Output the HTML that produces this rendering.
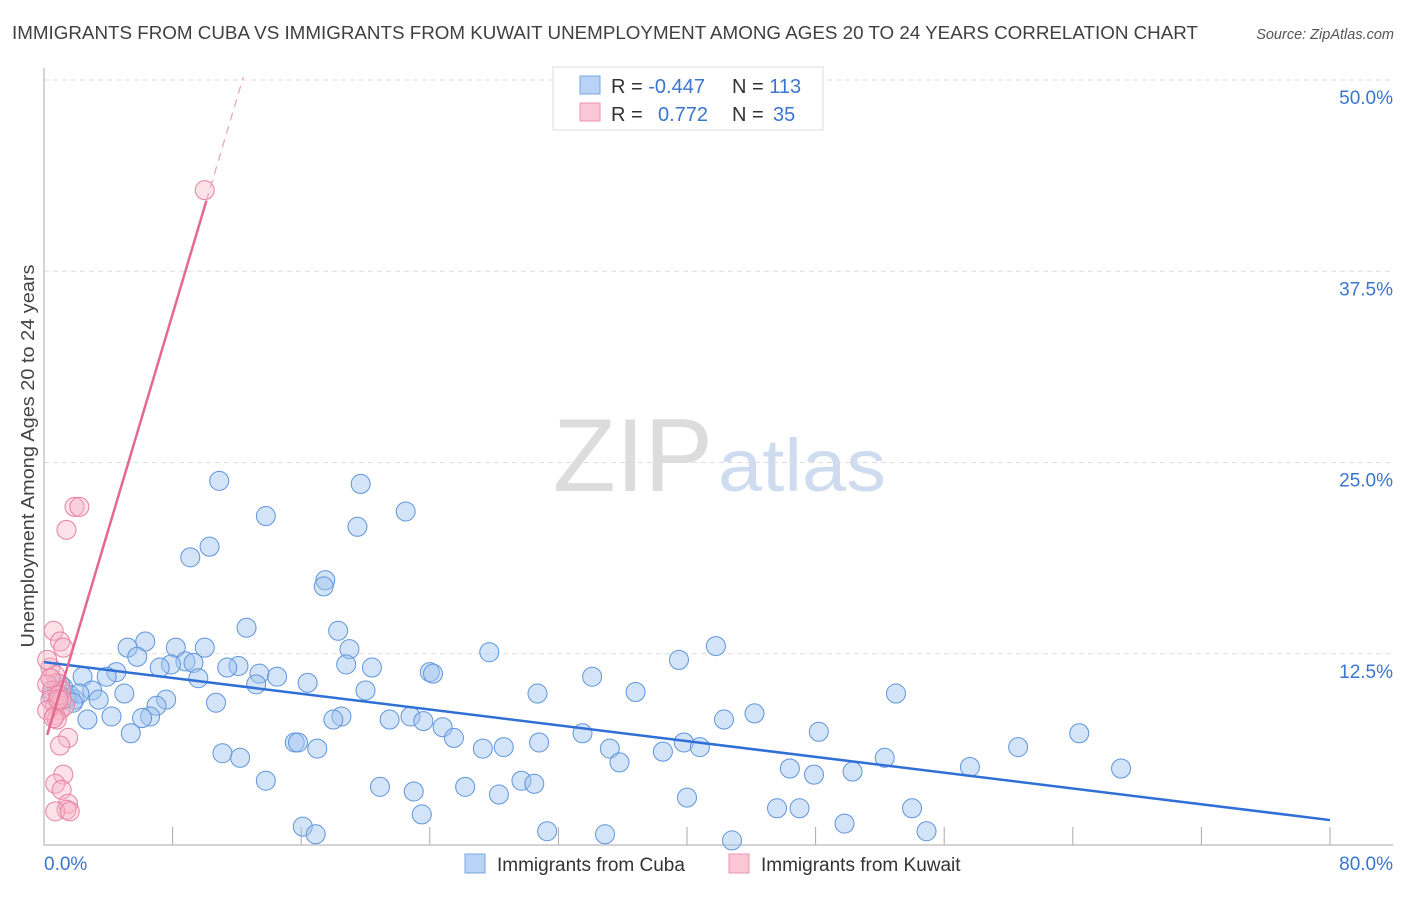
<!DOCTYPE html>
<html><head><meta charset="utf-8"><style>
body{margin:0;background:#fff;font-family:"Liberation Sans",sans-serif;}
svg text{font-family:"Liberation Sans",sans-serif;}
</style></head><body>
<svg id="chart" width="1406" height="892" xmlns="http://www.w3.org/2000/svg">
<text x="12" y="39" font-size="18" fill="#404040" textLength="1186" lengthAdjust="spacingAndGlyphs">IMMIGRANTS FROM CUBA VS IMMIGRANTS FROM KUWAIT UNEMPLOYMENT AMONG AGES 20 TO 24 YEARS CORRELATION CHART</text>
<text x="1394" y="39" font-size="14.5" fill="#555" text-anchor="end" font-style="italic">Source: ZipAtlas.com</text>
<text transform="translate(34,456) rotate(-90)" font-size="18.5" fill="#444" text-anchor="middle" textLength="383" lengthAdjust="spacingAndGlyphs">Unemployment Among Ages 20 to 24 years</text>
<g>
<text x="553" y="491" font-size="104" fill="#dcdcdc" font-family="Liberation Serif,serif" textLength="160" lengthAdjust="spacingAndGlyphs">ZIP</text>
<text x="718" y="491" font-size="74" fill="#cfdcf0" textLength="168" lengthAdjust="spacingAndGlyphs">atlas</text>
</g>
<g id="grid"></g>
<g id="axes"></g>
<g id="marks"></g>
<g>
<rect x="553" y="67" width="270" height="63" fill="#fff" stroke="#ddd"/>
<rect x="580" y="76" width="20" height="18" fill="#b8d3f5" stroke="#7aa7e0"/>
<rect x="580" y="103" width="20" height="18" fill="#fbc6d6" stroke="#eb95b0"/>
<text x="611" y="93" font-size="20" fill="#333">R = <tspan fill="#3a75d0">-0.447</tspan></text>
<text x="732" y="93" font-size="20" fill="#333">N = <tspan fill="#3a75d0">113</tspan></text>
<text x="611" y="121" font-size="20" fill="#333">R = <tspan fill="#3a75d0" x="658">0.772</tspan></text>
<text x="732" y="121" font-size="20" fill="#333">N = <tspan fill="#3a75d0" x="773">35</tspan></text>
</g>
<g>
<rect x="465" y="854" width="20" height="19" fill="#b8d3f5" stroke="#7aa7e0"/>
<text x="497" y="871" font-size="19" fill="#333">Immigrants from Cuba</text>
<rect x="729" y="854" width="20" height="19" fill="#fbc6d6" stroke="#eb95b0"/>
<text x="761" y="871" font-size="19" fill="#333">Immigrants from Kuwait</text>
</g>
</svg>
<script>
const yTicks=[12.5,25,37.5,50];
const yTickLabels=["12.5%","25.0%","37.5%","50.0%"];
const xTicks=[0,8,16,24,32,40,48,56,64,72,80];
const xEndLabels=["0.0%","80.0%"];
const cubaX=[10.9,19.7,13.8,22.5,19.5,10.3,9.1,17.5,17.4,12.6,18.3,6.3,5.2,8.2,10.0,19.0,27.7,41.8,5.8,8.8,9.3,7.9,12.1,7.2,18.8,20.4,39.5,4.5,13.4,14.5,3.9,2.4,9.6,11.4,24.0,24.2,13.2,16.4,34.1,3.0,5.0,20.0,30.7,36.8,53.0,3.4,7.6,7.0,10.7,4.2,6.6,6.1,2.7,18.5,18.0,21.5,22.8,23.6,24.8,44.2,42.3,5.4,25.5,33.5,48.2,64.4,15.6,15.8,17.0,30.8,27.3,28.6,39.8,40.8,35.2,38.5,11.1,12.2,60.6,35.8,52.3,46.4,57.6,47.9,50.3,67.0,13.8,20.9,26.2,23.0,29.7,30.5,28.3,40.0,45.6,47.0,54.0,23.5,16.1,16.9,31.3,34.9,49.8,54.9,42.8,0.8,1.2,1.6,1.9,0.5,1.0,1.4,2.2,1.8];
const cubaY=[23.8,23.6,21.5,21.8,20.8,19.5,18.8,17.3,16.9,14.2,14.0,13.3,12.9,12.9,12.9,12.8,12.6,13.0,12.3,12.0,11.9,11.8,11.7,11.6,11.8,11.6,12.1,11.3,11.2,11.0,11.0,11.0,10.9,11.6,11.3,11.2,10.5,10.6,11.0,10.1,9.9,10.1,9.9,10.0,9.9,9.5,9.5,9.1,9.3,8.4,8.4,8.3,8.2,8.4,8.2,8.2,8.4,8.1,7.7,8.6,8.2,7.3,7.0,7.3,7.4,7.3,6.7,6.7,6.3,6.7,6.3,6.4,6.7,6.4,6.3,6.1,6.0,5.7,6.4,5.4,5.7,5.0,5.1,4.6,4.8,5.0,4.2,3.8,3.8,3.5,4.2,4.0,3.3,3.1,2.4,2.4,2.4,2.0,1.2,0.7,0.9,0.7,1.4,0.9,0.3,10.1,10.3,9.8,9.5,9.8,10.5,9.6,9.9,9.3];
const kuwaitX=[10.0,1.9,2.2,1.4,0.6,1.0,1.2,0.4,0.7,0.8,0.2,0.5,1.1,0.4,0.7,1.0,0.7,1.3,0.8,1.5,1.0,1.2,0.7,1.1,1.5,1.4,0.7,1.6,0.2,0.4,0.9,1.1,0.2,0.6,0.9];
const kuwaitY=[42.8,22.1,22.1,20.6,14.0,13.3,12.9,11.6,11.1,10.6,10.5,10.1,10.1,9.5,9.1,8.8,8.5,9.1,8.2,7.0,6.5,4.6,4.0,3.6,2.7,2.3,2.2,2.2,12.1,10.9,9.8,9.5,8.8,8.3,9.5];
const cubaTrend=[[0,11.95],[80,1.63]];
const kuwaitTrendSolid=[[0.2,7.2],[10.1,42.1]];
const kuwaitTrendDash=[[10.1,42.1],[12.4,50.2]];

const NS="http://www.w3.org/2000/svg";
const X0=44,X1=1330,Y0=845,Y1=80;
function sx(v){return X0+v/80*(X1-X0);}
function sy(v){return Y0-v/50*(Y0-Y1);}
function mk(tag,attrs,parent){const e=document.createElementNS(NS,tag);for(const k in attrs)e.setAttribute(k,attrs[k]);parent.appendChild(e);return e;}
const grid=document.getElementById('grid'),axes=document.getElementById('axes'),marks=document.getElementById('marks');
yTicks.forEach((t,i)=>{
  const l=mk('line',{x1:X0,x2:1393,y1:sy(t),y2:sy(t),stroke:'#ddd','stroke-dasharray':'5,4'},grid);
  
  
  const tx=mk('text',{x:1393,y:sy(t)+24,'font-size':19,fill:'#3a75d0','text-anchor':'end'},axes);
  tx.textContent=yTickLabels[i];
  
  
});
const ax=mk('line',{x1:X0,x2:X0,y1:68,y2:Y0,stroke:'#aaa'},axes);


const bx=mk('line',{x1:X0,x2:1393,y1:Y0,y2:Y0,stroke:'#aaa'},axes);


xTicks.forEach(t=>{
  if(t===0)return;
  const l=mk('line',{x1:sx(t),x2:sx(t),y1:Y0-18,y2:Y0,stroke:'#aaa'},axes);
  
  
});
const xl0=mk('text',{x:X0,y:870,'font-size':19,fill:'#3a75d0'},axes);xl0.textContent=xEndLabels[0];


const xl1=mk('text',{x:1393,y:870,'font-size':19,fill:'#3a75d0','text-anchor':'end'},axes);xl1.textContent=xEndLabels[1];


cubaX.forEach((v,i)=>{
  const c=mk('circle',{cx:sx(v),cy:sy(cubaY[i]),r:9.5,fill:'rgba(160,196,240,0.45)',stroke:'#5e95dc','stroke-width':1},marks);
  
  
});
kuwaitX.forEach((v,i)=>{
  const c=mk('circle',{cx:sx(v),cy:sy(kuwaitY[i]),r:9.5,fill:'rgba(248,180,200,0.4)',stroke:'#e8819f','stroke-width':1},marks);
  
  
});
const t1=mk('line',{x1:sx(cubaTrend[0][0]),y1:sy(cubaTrend[0][1]),x2:sx(cubaTrend[1][0]),y2:sy(cubaTrend[1][1]),stroke:'#2f6fd6','stroke-width':2.5},marks);


const t2=mk('line',{x1:sx(kuwaitTrendSolid[0][0]),y1:sy(kuwaitTrendSolid[0][1]),x2:sx(kuwaitTrendSolid[1][0]),y2:sy(kuwaitTrendSolid[1][1]),stroke:'#e4688f','stroke-width':2.5},marks);


const t3=mk('line',{x1:sx(kuwaitTrendDash[0][0]),y1:sy(kuwaitTrendDash[0][1]),x2:sx(kuwaitTrendDash[1][0]),y2:sy(kuwaitTrendDash[1][1]),stroke:'#eba0b8','stroke-width':1.2,'stroke-dasharray':'8,6'},marks);


</script>
</body></html>
